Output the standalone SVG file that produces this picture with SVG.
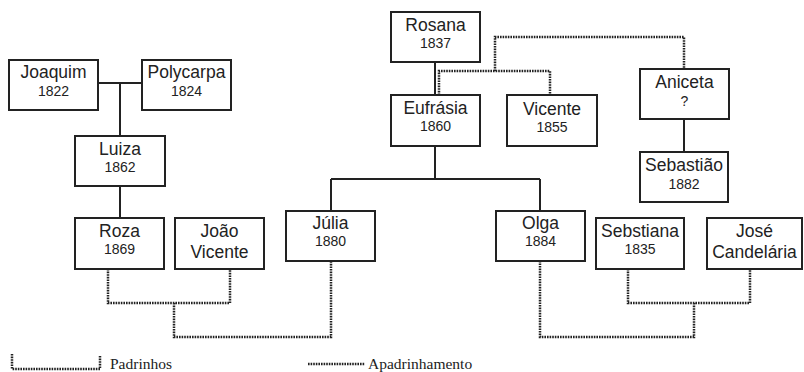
<svg xmlns="http://www.w3.org/2000/svg" width="804" height="372" viewBox="0 0 804 372">
<style>
.box{fill:#fff;stroke:#222;stroke-width:2}
.nm{font-family:"Liberation Sans",Arial,sans-serif;font-size:17.5px;fill:#222;text-anchor:middle}
.yr{font-family:"Liberation Sans",Arial,sans-serif;font-size:14px;fill:#222;text-anchor:middle}
.solid{fill:none;stroke:#222;stroke-width:2}
.dot{fill:none;stroke:#222;stroke-width:2.5;stroke-dasharray:1.6 1}
.leg{font-family:"Liberation Serif","Times New Roman",serif;font-size:15.5px;fill:#222}
</style>
<rect width="804" height="372" fill="#fff"/>
<g id="connectors">
<path class="solid" d="M98 83H142M120 83V136M120 186V218M435 62V95M435 146V179M331 179H540M331 179V211M540 179V211M684 119V152"/>
<path class="dot" d="M439 95V71H550V95M495 71V37H684V69"/>
<path class="dot" d="M108 269V303H230V269M174 303V337H331V261"/>
<path class="dot" d="M628 269V303H750V269M694 303V337H540V261"/>
</g>
<g id="joaquim"><rect class="box" x="9" y="60" width="89" height="50"/><text class="nm" x="53.5" y="78">Joaquim</text><text class="yr" x="53.5" y="96">1822</text></g>
<g id="polycarpa"><rect class="box" x="142" y="60" width="89" height="50"/><text class="nm" x="186.5" y="78">Polycarpa</text><text class="yr" x="186.5" y="96">1824</text></g>
<g id="luiza"><rect class="box" x="75" y="136" width="90" height="50"/><text class="nm" x="120" y="155">Luiza</text><text class="yr" x="120" y="172">1862</text></g>
<g id="roza"><rect class="box" x="75" y="218" width="89" height="51"/><text class="nm" x="119.5" y="237">Roza</text><text class="yr" x="119.5" y="254">1869</text></g>
<g id="joao-vicente"><rect class="box" x="175" y="218" width="89" height="51"/><text class="nm" x="219.5" y="237">João</text><text class="nm" x="219.5" y="258">Vicente</text></g>
<g id="julia"><rect class="box" x="286" y="211" width="89" height="50"/><text class="nm" x="330.5" y="229">Júlia</text><text class="yr" x="330.5" y="246">1880</text></g>
<g id="rosana"><rect class="box" x="391" y="12" width="89" height="50"/><text class="nm" x="435.5" y="31">Rosana</text><text class="yr" x="435.5" y="48">1837</text></g>
<g id="eufrasia"><rect class="box" x="391" y="95" width="89" height="51"/><text class="nm" x="435.5" y="114">Eufrásia</text><text class="yr" x="435.5" y="131">1860</text></g>
<g id="vicente"><rect class="box" x="507" y="95" width="90" height="51"/><text class="nm" x="552" y="115">Vicente</text><text class="yr" x="552" y="132">1855</text></g>
<g id="aniceta"><rect class="box" x="640" y="69" width="89" height="50"/><text class="nm" x="684.5" y="88">Aniceta</text><text class="yr" x="684.5" y="106">?</text></g>
<g id="sebastiao"><rect class="box" x="640" y="152" width="88" height="50"/><text class="nm" x="684" y="171">Sebastião</text><text class="yr" x="684" y="189">1882</text></g>
<g id="olga"><rect class="box" x="496" y="211" width="89" height="50"/><text class="nm" x="540.5" y="229">Olga</text><text class="yr" x="540.5" y="246">1884</text></g>
<g id="sebstiana"><rect class="box" x="596" y="218" width="88" height="51"/><text class="nm" x="640" y="237">Sebstiana</text><text class="yr" x="640" y="254">1835</text></g>
<g id="jose-candelaria"><rect class="box" x="707" y="218" width="95" height="51"/><text class="nm" x="754.5" y="237">José</text><text class="nm" x="754.5" y="258">Candelária</text></g>
<g id="legend">
<path class="dot" d="M12 354V369H100V356"/>
<text class="leg" x="110" y="369">Padrinhos</text>
<path class="dot" d="M308 364H365"/>
<text class="leg" x="368" y="369">Apadrinhamento</text>
</g>
</svg>
